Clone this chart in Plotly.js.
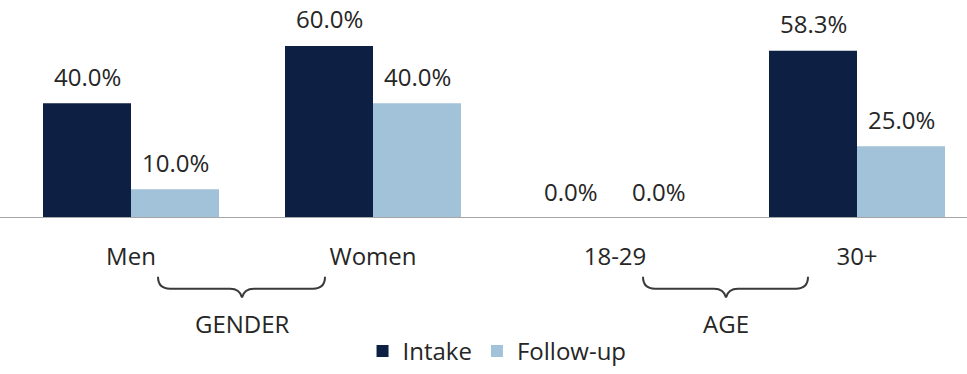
<!DOCTYPE html>
<html>
<head>
<meta charset="utf-8">
<script src="https://cdn.plot.ly/plotly-3.0.1.min.js"></script>
<style>html,body{margin:0;padding:0;background:#fff;}#chart{width:967px;height:374px;}</style>
</head>
<body>
<div id="chart"></div>
<script>
const categories = ["Men", "Women", "18-29", "30+"];
const intake = [40.0, 60.0, 0.0, 58.3];
const followUp = [10.0, 40.0, 0.0, 25.0];
const seriesNames = ["Intake", "Follow-up"];
const groupLabels = ["GENDER", "AGE"];

const W = 967, H = 374, baseY = 220.5;
const navy = "#0e1f44", light = "#a2c2d9", txt = "#262626";
const FONT = "Open Sans, DejaVu Sans, sans-serif";
const FS = 24;

// pixel -> paper helpers (for decorative brackets)
const px = x => x / W;
const py = y => (baseY - y) / baseY;

function bracket(x0, xc, x1) {
  const t = 280, m = 292, c = 301;
  const pts = [
    `M ${px(x0)},${py(t)}`,
    `Q ${px(x0)},${py(m)} ${px(x0 + 12)},${py(m)}`,
    `L ${px(xc - 12)},${py(m)}`,
    `Q ${px(xc - 2)},${py(m)} ${px(xc)},${py(c)}`,
    `Q ${px(xc + 2)},${py(m)} ${px(xc + 12)},${py(m)}`,
    `L ${px(x1 - 12)},${py(m)}`,
    `Q ${px(x1)},${py(m)} ${px(x1)},${py(t)}`
  ];
  return {type: "path", xref: "paper", yref: "paper", path: pts.join(" "),
    line: {color: "#3a3a3a", width: 2}};
}

const traces = [
  {type: "bar", name: seriesNames[0], x: categories, y: intake,
   marker: {color: navy}, hoverinfo: "skip"},
  {type: "bar", name: seriesNames[1], x: categories, y: followUp,
   marker: {color: light}, hoverinfo: "skip"}
];

const annotations = [];
[intake, followUp].forEach((arr, si) => {
  arr.forEach((v, i) => {
    annotations.push({x: categories[i], y: v, xref: "x", yref: "y",
      text: v.toFixed(1) + "%", showarrow: false, yanchor: "middle",
      xshift: si === 0 ? -44 : 44, yshift: 27,
      font: {family: FONT, size: FS, color: txt}});
  });
});
annotations.push({x: px(242), y: py(327), xref: "paper", yref: "paper", text: groupLabels[0],
  showarrow: false, xanchor: "center", yanchor: "middle", font: {family: FONT, size: FS, color: txt}});
annotations.push({x: px(726), y: py(327), xref: "paper", yref: "paper", text: groupLabels[1],
  showarrow: false, xanchor: "center", yanchor: "middle", font: {family: FONT, size: FS, color: txt}});

const layout = {
  width: W, height: H,
  margin: {l: 0, r: 0, t: 0, b: H - baseY, pad: 0},
  paper_bgcolor: "#fff", plot_bgcolor: "#fff",
  barmode: "group", bargap: 66 / 242, bargroupgap: 0,
  font: {family: FONT, size: FS, color: txt},
  xaxis: {type: "category", range: [-0.5 - 10 / 242, -0.5 + 957 / 242],
    showgrid: false, zeroline: false, showline: false, ticks: "",
    ticklabelstandoff: 22, tickfont: {family: FONT, size: FS, color: txt}, fixedrange: true},
  yaxis: {range: [0, baseY / 2.9], visible: false, showgrid: false, zeroline: false, fixedrange: true},
  showlegend: true,
  legend: {orientation: "h", x: 0.514, xanchor: "center", y: py(356), yanchor: "middle",
    font: {family: FONT, size: FS, color: txt}, itemwidth: 30, traceorder: "normal"},
  shapes: [
    {type: "line", xref: "x", yref: "y", x0: -0.6, x1: 3.6, y0: 0, y1: 0,
     line: {color: "#a6a6a6", width: 2}},
    bracket(158, 242, 325),
    bracket(643, 726, 808)
  ],
  annotations: annotations
};

Plotly.newPlot("chart", traces, layout, {displayModeBar: false, staticPlot: true});
</script>
</body>
</html>
